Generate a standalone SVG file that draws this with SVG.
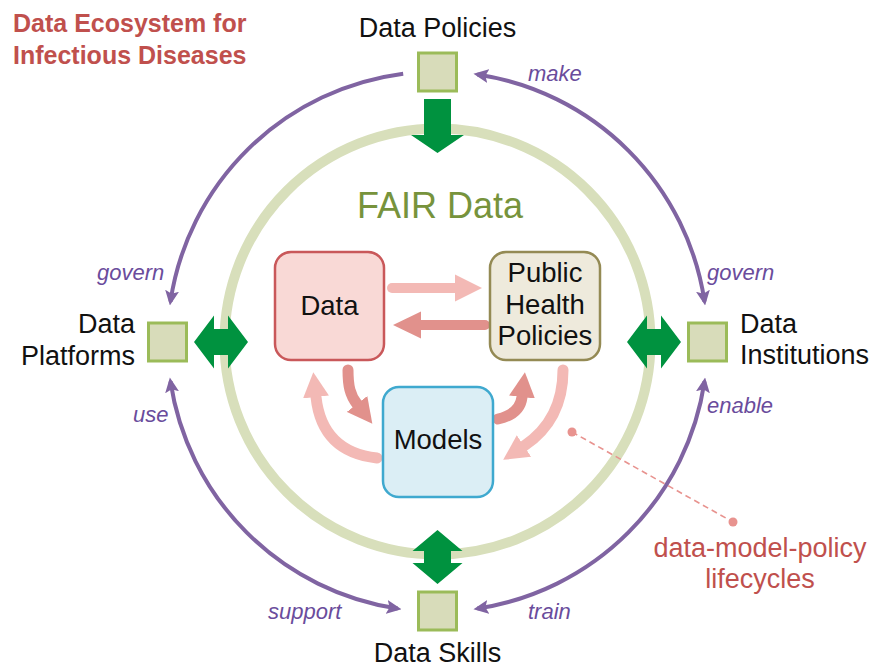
<svg xmlns="http://www.w3.org/2000/svg" width="884" height="672" viewBox="0 0 884 672">
<defs>
<style>
text{font-family:"Liberation Sans",Arial,"DejaVu Sans",sans-serif;}
.lbl{font-size:27px;fill:#111;}
.box{font-size:27.5px;fill:#111;}
.verb{font-size:22px;font-style:italic;fill:#6a4c9c;}
.title{font-size:25px;font-weight:bold;fill:#c0504d;}
.sq{fill:#d8dcba;stroke:#9bbb59;stroke-width:3;}
.arc{fill:none;stroke:#8064a2;stroke-width:4;}
.garrow{fill:#00923f;}
.lp{fill:none;stroke:#f3b9b5;stroke-width:11;stroke-linecap:round;}
.dp{fill:none;stroke:#e1918c;stroke-width:11;stroke-linecap:round;}
</style>
<marker id="pa" viewBox="0 0 15 14" refX="11" refY="7" markerWidth="15" markerHeight="14" markerUnits="userSpaceOnUse" orient="auto-start-reverse">
<path d="M0,0 L15,7 L0,14 L3,7 z" fill="#8064a2"/>
</marker>
<marker id="hl" viewBox="0 -13 25 26" refX="0" refY="0" markerWidth="25" markerHeight="26" markerUnits="userSpaceOnUse" orient="auto">
<path d="M0,-13 L25,0 L0,13 z" fill="#f3b9b5"/>
</marker>
<marker id="hd" viewBox="0 -13 25 26" refX="0" refY="0" markerWidth="25" markerHeight="26" markerUnits="userSpaceOnUse" orient="auto">
<path d="M0,-13 L25,0 L0,13 z" fill="#e1918c"/>
</marker>
</defs>
<rect width="884" height="672" fill="#ffffff"/>

<g id="title">
<text class="title" x="13" y="32">Data Ecosystem for</text>
<text class="title" x="13" y="64">Infectious Diseases</text>
</g>

<g id="fair-ring">
<circle cx="437.5" cy="341.5" r="213" fill="none" stroke="#d8dfbb" stroke-width="10"/>
<text x="440" y="218" text-anchor="middle" style="font-size:36px;fill:#77933c;">FAIR Data</text>
</g>

<g id="connectors">
<path class="arc" d="M403.19,73.69 A270,270 0 0 0 170.46,301.59" marker-end="url(#pa)"/>
<path class="arc" d="M704.54,301.59 A270,270 0 0 0 477.41,74.46" marker-start="url(#pa)" marker-end="url(#pa)"/>
<path class="arc" d="M397.59,608.54 A270,270 0 0 1 170.46,381.41" marker-start="url(#pa)" marker-end="url(#pa)"/>
<path class="arc" d="M704.54,381.41 A270,270 0 0 1 477.41,608.54" marker-start="url(#pa)" marker-end="url(#pa)"/>

<polygon class="garrow" points="424,99 451,99 451,135 464,135 437.5,153 411,135 424,135"/>
<polygon class="garrow" points="194,342 214,315.5 214,329 228,329 228,315.5 248,342 228,368.5 228,355 214,355 214,368.5"/>
<polygon class="garrow" points="627,342 647,315.5 647,329 661,329 661,315.5 681,342 661,368.5 661,355 647,355 647,368.5"/>
<polygon class="garrow" points="437.5,530 462.5,551 451,551 451,563 462.5,563 437.5,584 412.5,563 424,563 424,551 412.5,551"/>

<line x1="392" y1="288" x2="456" y2="288" stroke="#f3b9b5" stroke-width="10" stroke-linecap="round"/>
<polygon points="455,274.5 482,288 455,301.5" fill="#f3b9b5"/>
<line x1="485" y1="325" x2="420" y2="325" stroke="#e1918c" stroke-width="10" stroke-linecap="round"/>
<polygon points="421,311.5 393,325 421,338.5" fill="#e1918c"/>

<path class="dp" d="M348,370 C348,386 350,395 357,404" marker-end="url(#hd)"/>
<path class="lp" d="M377,458 Q322,452 316,397" marker-end="url(#hl)"/>
<path class="dp" d="M498,419 Q520,414 522,397" marker-end="url(#hd)"/>
<path class="lp" d="M563,370 Q563,420 524,446" marker-end="url(#hl)"/>

<line x1="572" y1="432" x2="733" y2="522" stroke="#e8938f" stroke-width="1.6" stroke-dasharray="6,4"/>
<circle cx="572" cy="432" r="4.5" fill="#e8938f"/>
<circle cx="733" cy="522" r="4.5" fill="#e8938f"/>
</g>

<g id="data-policies">
<rect class="sq" x="418.5" y="53" width="38" height="38"/>
<text class="lbl" x="437.5" y="37" text-anchor="middle">Data Policies</text>
</g>
<g id="data-platforms">
<rect class="sq" x="148.5" y="323" width="38" height="38"/>
<text class="lbl" x="135" y="333" text-anchor="end">Data</text>
<text class="lbl" x="135" y="365" text-anchor="end">Platforms</text>
</g>
<g id="data-institutions">
<rect class="sq" x="688.5" y="323" width="38" height="38"/>
<text class="lbl" x="740" y="333">Data</text>
<text class="lbl" x="740" y="364">Institutions</text>
</g>
<g id="data-skills">
<rect class="sq" x="418.5" y="592" width="38" height="38"/>
<text class="lbl" x="437.5" y="662" text-anchor="middle">Data Skills</text>
</g>

<g id="verb-labels">
<text class="verb" x="528" y="81">make</text>
<text class="verb" x="97" y="280">govern</text>
<text class="verb" x="707" y="280">govern</text>
<text class="verb" x="133" y="422">use</text>
<text class="verb" x="707" y="413">enable</text>
<text class="verb" x="268" y="619">support</text>
<text class="verb" x="528" y="619">train</text>
</g>

<g id="node-data">
<rect x="275" y="252" width="109" height="108" rx="16" fill="#f9d9d6" stroke="#c9585a" stroke-width="2.5"/>
<text class="box" x="329.5" y="315" text-anchor="middle">Data</text>
</g>
<g id="node-policies">
<rect x="490" y="252" width="110" height="108" rx="16" fill="#eeeadc" stroke="#948a54" stroke-width="2.5"/>
<text class="box" x="545" y="282" text-anchor="middle">Public</text>
<text class="box" x="545" y="314" text-anchor="middle">Health</text>
<text class="box" x="545" y="345" text-anchor="middle">Policies</text>
</g>
<g id="node-models">
<rect x="383" y="387" width="110" height="110" rx="16" fill="#dbeef5" stroke="#3fa9cf" stroke-width="2.5"/>
<text class="box" x="438" y="449" text-anchor="middle">Models</text>
</g>

<g id="lifecycle-label">
<text x="760" y="557" text-anchor="middle" style="font-size:27px;fill:#c0504d;">data-model-policy</text>
<text x="760" y="588" text-anchor="middle" style="font-size:27px;fill:#c0504d;">lifecycles</text>
</g>
</svg>
